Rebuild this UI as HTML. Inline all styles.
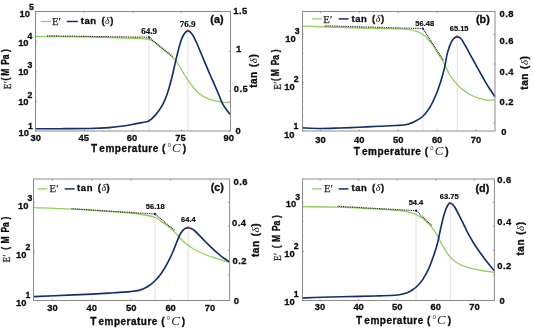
<!DOCTYPE html>
<html><head><meta charset="utf-8"><title>DMA curves</title>
<style>
html,body{margin:0;padding:0;background:#fff;overflow:hidden;}
svg{display:block;}
text{font-family:"Liberation Sans",sans-serif;fill:#0c0c0c;}
.tk{font-size:9.9px;font-weight:bold;}
.sp{font-size:9.2px;font-weight:bold;}
.an{font-family:"Liberation Serif",serif;font-size:9px;font-weight:bold;}
.an2{font-family:"Liberation Sans",sans-serif;font-size:7.9px;font-weight:bold;}
.ep{font-family:"Liberation Serif",serif;font-size:10.8px;fill:#2a2a2a;stroke:#2a2a2a;stroke-width:0.25px;}
.ep2{font-family:"Liberation Serif",serif;font-size:11px;font-weight:normal;fill:#2a2a2a;}
.lg{font-size:9.5px;font-weight:bold;letter-spacing:0.55px;}
.dl{font-family:"Liberation Serif",serif;font-style:italic;font-weight:normal;font-size:10px;}
.dl2{font-family:"Liberation Serif",serif;font-style:italic;font-weight:normal;font-size:11px;}
.dc{font-family:"Liberation Serif",serif;font-style:italic;font-weight:normal;font-size:13px;fill:#1c2430;}
.tg{font-size:10.8px;font-weight:bold;}
.at{font-size:10px;font-weight:bold;letter-spacing:0.5px;}
.tk,.sp,.lg,.tg,.at{stroke:#0c0c0c;stroke-width:0.3px;}
.an2{stroke:#0c0c0c;stroke-width:0.2px;}
.an{stroke:#0c0c0c;stroke-width:0.2px;}
.dl,.dl2,.dc{stroke:none;}
.ep2{stroke:#2a2a2a;stroke-width:0.3px;}
</style></head><body>
<svg width="533" height="328" viewBox="0 0 533 328">
<rect width="533" height="328" fill="#fff"/>
<g id="panel-a">
<line x1="149" y1="38" x2="149" y2="131" stroke="#e0e0e0" stroke-width="1"/>
<line x1="187.8" y1="31" x2="187.8" y2="131" stroke="#e0e0e0" stroke-width="1"/>
<path d="M35.50,36.50C39.58,36.53 50.92,36.62 60.00,36.70C69.08,36.78 80.00,36.82 90.00,37.00C100.00,37.18 111.67,37.55 120.00,37.80C128.33,38.05 135.50,38.30 140.00,38.50C144.50,38.70 145.17,38.72 147.00,39.00C148.83,39.28 149.67,39.53 151.00,40.20C152.33,40.87 152.67,41.20 155.00,43.00C157.33,44.80 162.00,48.58 165.00,51.00C168.00,53.42 170.67,55.08 173.00,57.50C175.33,59.92 177.08,62.58 179.00,65.50C180.92,68.42 182.43,71.77 184.50,75.00C186.57,78.23 188.93,81.77 191.40,84.90C193.87,88.03 196.33,91.42 199.30,93.80C202.27,96.18 205.90,97.88 209.20,99.20C212.50,100.52 216.30,101.12 219.10,101.70C221.90,102.28 224.13,102.63 226.00,102.70C227.87,102.77 229.58,102.20 230.30,102.10" fill="none" stroke="#92cf5e" stroke-width="1.3" stroke-linejoin="round"/>
<path d="M35.50,128.70C39.58,128.70 51.02,128.73 60.00,128.70C68.98,128.67 81.20,128.68 89.40,128.50C97.60,128.32 103.25,128.05 109.20,127.60C115.15,127.15 120.80,126.42 125.10,125.80C129.40,125.18 132.18,124.43 135.00,123.90C137.82,123.37 139.70,123.08 142.00,122.60C144.30,122.12 146.50,122.33 148.80,121.00C151.10,119.67 153.48,117.32 155.80,114.60C158.12,111.88 160.73,108.33 162.70,104.70C164.67,101.07 166.05,97.42 167.60,92.80C169.15,88.18 170.60,82.53 172.00,77.00C173.40,71.47 174.67,65.10 176.00,59.60C177.33,54.10 178.75,48.10 180.00,44.00C181.25,39.90 182.20,37.18 183.50,35.00C184.80,32.82 186.38,31.07 187.80,30.90C189.22,30.73 190.63,32.23 192.00,34.00C193.37,35.77 194.05,37.23 196.00,41.50C197.95,45.77 201.33,54.02 203.70,59.60C206.07,65.18 207.95,69.80 210.20,75.00C212.45,80.20 215.05,85.85 217.20,90.80C219.35,95.75 221.13,101.00 223.10,104.70C225.07,108.40 227.80,111.42 229.00,113.00C230.20,114.58 230.08,114.00 230.30,114.20" fill="none" stroke="#11306a" stroke-width="1.65" stroke-linejoin="round"/>
<path d="M47.00,35.80L149.00,37.30L173.20,57.00" fill="none" stroke="#1a1a1a" stroke-width="1.2" stroke-dasharray="0.9 0.9"/>
<rect x="35.5" y="11.5" width="195.0" height="119.5" fill="none" stroke="#8c8c8c" stroke-width="1"/>
<line x1="35.5" y1="131" x2="35.5" y2="129.4" stroke="#8c8c8c" stroke-width="0.8"/>
<line x1="35.5" y1="11.5" x2="35.5" y2="13.1" stroke="#8c8c8c" stroke-width="0.8"/>
<text transform="translate(35.70,140.50) scale(0.95,1)" class="tk" text-anchor="middle">30</text>
<line x1="84.25" y1="131" x2="84.25" y2="129.4" stroke="#8c8c8c" stroke-width="0.8"/>
<line x1="84.25" y1="11.5" x2="84.25" y2="13.1" stroke="#8c8c8c" stroke-width="0.8"/>
<text transform="translate(83.70,140.50) scale(0.95,1)" class="tk" text-anchor="middle">45</text>
<line x1="133" y1="131" x2="133" y2="129.4" stroke="#8c8c8c" stroke-width="0.8"/>
<line x1="133" y1="11.5" x2="133" y2="13.1" stroke="#8c8c8c" stroke-width="0.8"/>
<text transform="translate(132.00,140.50) scale(0.95,1)" class="tk" text-anchor="middle">60</text>
<line x1="181.2" y1="131" x2="181.2" y2="129.4" stroke="#8c8c8c" stroke-width="0.8"/>
<line x1="181.2" y1="11.5" x2="181.2" y2="13.1" stroke="#8c8c8c" stroke-width="0.8"/>
<text transform="translate(180.50,140.50) scale(0.95,1)" class="tk" text-anchor="middle">75</text>
<line x1="230.5" y1="131" x2="230.5" y2="129.4" stroke="#8c8c8c" stroke-width="0.8"/>
<line x1="230.5" y1="11.5" x2="230.5" y2="13.1" stroke="#8c8c8c" stroke-width="0.8"/>
<text transform="translate(228.70,140.50) scale(0.95,1)" class="tk" text-anchor="middle">90</text>
<line x1="35.5" y1="122.01" x2="36.6" y2="122.01" stroke="#8c8c8c" stroke-width="0.45"/>
<line x1="35.5" y1="116.75" x2="36.6" y2="116.75" stroke="#8c8c8c" stroke-width="0.45"/>
<line x1="35.5" y1="113.01" x2="36.6" y2="113.01" stroke="#8c8c8c" stroke-width="0.45"/>
<line x1="35.5" y1="110.12" x2="36.6" y2="110.12" stroke="#8c8c8c" stroke-width="0.45"/>
<line x1="35.5" y1="107.75" x2="36.6" y2="107.75" stroke="#8c8c8c" stroke-width="0.45"/>
<line x1="35.5" y1="105.75" x2="36.6" y2="105.75" stroke="#8c8c8c" stroke-width="0.45"/>
<line x1="35.5" y1="104.02" x2="36.6" y2="104.02" stroke="#8c8c8c" stroke-width="0.45"/>
<line x1="35.5" y1="102.49" x2="36.6" y2="102.49" stroke="#8c8c8c" stroke-width="0.45"/>
<line x1="35.5" y1="92.13" x2="36.6" y2="92.13" stroke="#8c8c8c" stroke-width="0.45"/>
<line x1="35.5" y1="86.87" x2="36.6" y2="86.87" stroke="#8c8c8c" stroke-width="0.45"/>
<line x1="35.5" y1="83.14" x2="36.6" y2="83.14" stroke="#8c8c8c" stroke-width="0.45"/>
<line x1="35.5" y1="80.24" x2="36.6" y2="80.24" stroke="#8c8c8c" stroke-width="0.45"/>
<line x1="35.5" y1="77.88" x2="36.6" y2="77.88" stroke="#8c8c8c" stroke-width="0.45"/>
<line x1="35.5" y1="75.88" x2="36.6" y2="75.88" stroke="#8c8c8c" stroke-width="0.45"/>
<line x1="35.5" y1="74.15" x2="36.6" y2="74.15" stroke="#8c8c8c" stroke-width="0.45"/>
<line x1="35.5" y1="72.62" x2="36.6" y2="72.62" stroke="#8c8c8c" stroke-width="0.45"/>
<line x1="35.5" y1="62.26" x2="36.6" y2="62.26" stroke="#8c8c8c" stroke-width="0.45"/>
<line x1="35.5" y1="57.00" x2="36.6" y2="57.00" stroke="#8c8c8c" stroke-width="0.45"/>
<line x1="35.5" y1="53.26" x2="36.6" y2="53.26" stroke="#8c8c8c" stroke-width="0.45"/>
<line x1="35.5" y1="50.37" x2="36.6" y2="50.37" stroke="#8c8c8c" stroke-width="0.45"/>
<line x1="35.5" y1="48.00" x2="36.6" y2="48.00" stroke="#8c8c8c" stroke-width="0.45"/>
<line x1="35.5" y1="46.00" x2="36.6" y2="46.00" stroke="#8c8c8c" stroke-width="0.45"/>
<line x1="35.5" y1="44.27" x2="36.6" y2="44.27" stroke="#8c8c8c" stroke-width="0.45"/>
<line x1="35.5" y1="42.74" x2="36.6" y2="42.74" stroke="#8c8c8c" stroke-width="0.45"/>
<line x1="35.5" y1="32.38" x2="36.6" y2="32.38" stroke="#8c8c8c" stroke-width="0.45"/>
<line x1="35.5" y1="27.12" x2="36.6" y2="27.12" stroke="#8c8c8c" stroke-width="0.45"/>
<line x1="35.5" y1="23.39" x2="36.6" y2="23.39" stroke="#8c8c8c" stroke-width="0.45"/>
<line x1="35.5" y1="20.49" x2="36.6" y2="20.49" stroke="#8c8c8c" stroke-width="0.45"/>
<line x1="35.5" y1="18.13" x2="36.6" y2="18.13" stroke="#8c8c8c" stroke-width="0.45"/>
<line x1="35.5" y1="16.13" x2="36.6" y2="16.13" stroke="#8c8c8c" stroke-width="0.45"/>
<line x1="35.5" y1="14.40" x2="36.6" y2="14.40" stroke="#8c8c8c" stroke-width="0.45"/>
<line x1="35.5" y1="12.87" x2="36.6" y2="12.87" stroke="#8c8c8c" stroke-width="0.45"/>
<line x1="35.5" y1="131" x2="37.1" y2="131" stroke="#8c8c8c" stroke-width="0.8"/>
<text transform="translate(28.90,135.70) scale(0.95,1)" class="tk" text-anchor="end">10</text>
<text transform="translate(27.90,128.80) scale(0.95,1)" class="sp">1</text>
<line x1="35.5" y1="101.1" x2="37.1" y2="101.1" stroke="#8c8c8c" stroke-width="0.8"/>
<text transform="translate(28.60,105.20) scale(0.95,1)" class="tk" text-anchor="end">10</text>
<text transform="translate(27.60,98.10) scale(0.95,1)" class="sp">2</text>
<line x1="35.5" y1="71.25" x2="37.1" y2="71.25" stroke="#8c8c8c" stroke-width="0.8"/>
<text transform="translate(28.60,75.20) scale(0.95,1)" class="tk" text-anchor="end">10</text>
<text transform="translate(27.60,68.00) scale(0.95,1)" class="sp">3</text>
<line x1="35.5" y1="41.4" x2="37.1" y2="41.4" stroke="#8c8c8c" stroke-width="0.8"/>
<text transform="translate(28.60,45.90) scale(0.95,1)" class="tk" text-anchor="end">10</text>
<text transform="translate(27.60,38.80) scale(0.95,1)" class="sp">4</text>
<line x1="35.5" y1="11.5" x2="37.1" y2="11.5" stroke="#8c8c8c" stroke-width="0.8"/>
<text transform="translate(29.90,16.60) scale(0.95,1)" class="tk" text-anchor="end">10</text>
<text transform="translate(28.90,9.70) scale(0.95,1)" class="sp">5</text>
<text transform="translate(235.60,133.70) scale(0.95,1)" class="tk" letter-spacing="0.5">0</text>
<text transform="translate(233.80,92.30) scale(0.95,1)" class="tk" letter-spacing="0.5">0.5</text>
<text transform="translate(236.00,51.70) scale(0.95,1)" class="tk" letter-spacing="0.5">1</text>
<text transform="translate(233.20,14.30) scale(0.95,1)" class="tk" letter-spacing="0.5">1.5</text>
<line x1="230.5" y1="131" x2="228.9" y2="131" stroke="#8c8c8c" stroke-width="0.8"/>
<line x1="230.5" y1="91.2" x2="228.9" y2="91.2" stroke="#8c8c8c" stroke-width="0.8"/>
<line x1="230.5" y1="51.3" x2="228.9" y2="51.3" stroke="#8c8c8c" stroke-width="0.8"/>
<line x1="230.5" y1="11.5" x2="228.9" y2="11.5" stroke="#8c8c8c" stroke-width="0.8"/>
<circle cx="149.2" cy="37.4" r="1.15" fill="#1c1c90"/>
<circle cx="187.8" cy="30.6" r="1.15" fill="#d42020"/>
<text x="149" y="33.5" class="an" text-anchor="middle">64.9</text>
<text x="187.6" y="27.2" class="an" text-anchor="middle">76.9</text>
<line x1="40.5" y1="21.5" x2="51" y2="21.5" stroke="#92cf5e" stroke-width="1.25"/>
<text x="52.0" y="24.9" class="ep">E′</text>
<line x1="66.8" y1="21.5" x2="77.8" y2="21.5" stroke="#11306a" stroke-width="1.5"/>
<text x="80.8" y="24.099999999999998" class="lg">tan <tspan dx="1.5">(</tspan><tspan class="dl">δ</tspan>)</text>
<text x="210.3" y="22.6" class="tg">(a)</text>
<text x="138.8" y="152.3" class="at" text-anchor="middle"><tspan>T</tspan><tspan dx="2.4">emperature </tspan><tspan>(</tspan><tspan class="dc" dx="1" dy="-1" style="font-size:10px">°</tspan><tspan class="dc" dx="0.6" dy="1">C</tspan><tspan dx="1.5">)</tspan></text>
<g transform="translate(10.5,89.5) rotate(-90) scale(0.85,1)"><text class="ep2" x="0.3 7.3">E′</text><text class="at" letter-spacing="0" y="-1.1" x="10.6 16.2 24.0 29.0 35.5 44.2">(M Pa)</text></g>
<text transform="translate(257.4,87.8) rotate(-90)" class="at">tan <tspan dx="1">(</tspan><tspan class="dl2">δ</tspan>)</text>
</g>
<g id="panel-b">
<line x1="422.9" y1="30" x2="422.9" y2="131" stroke="#e0e0e0" stroke-width="1"/>
<line x1="457.2" y1="37" x2="457.2" y2="131" stroke="#e0e0e0" stroke-width="1"/>
<path d="M302.50,25.80C306.22,26.00 315.22,26.63 324.80,27.00C334.38,27.37 348.30,27.70 360.00,28.00C371.70,28.30 387.18,28.57 395.00,28.80C402.82,29.03 403.27,28.97 406.90,29.40C410.53,29.83 413.83,30.35 416.80,31.40C419.77,32.45 422.23,33.65 424.70,35.70C427.17,37.75 429.45,40.88 431.60,43.70C433.75,46.52 435.62,49.47 437.60,52.60C439.58,55.73 441.68,59.20 443.50,62.50C445.32,65.80 447.02,69.67 448.50,72.40C449.98,75.13 450.42,76.33 452.40,78.90C454.38,81.47 457.42,85.17 460.40,87.80C463.38,90.43 467.00,92.88 470.30,94.70C473.60,96.52 477.23,97.77 480.20,98.70C483.17,99.63 485.67,100.13 488.10,100.30C490.53,100.47 493.68,99.80 494.80,99.70" fill="none" stroke="#92cf5e" stroke-width="1.3" stroke-linejoin="round"/>
<path d="M302.50,127.90C305.37,128.00 313.45,128.48 319.70,128.50C325.95,128.52 333.40,128.20 340.00,128.00C346.60,127.80 352.80,127.58 359.30,127.30C365.80,127.02 373.05,126.60 379.00,126.30C384.95,126.00 390.35,125.80 395.00,125.50C399.65,125.20 403.60,125.17 406.90,124.50C410.20,123.83 412.17,122.83 414.80,121.50C417.43,120.17 420.22,118.82 422.70,116.50C425.18,114.18 427.55,111.07 429.70,107.60C431.85,104.13 433.78,99.98 435.60,95.70C437.42,91.42 439.12,86.52 440.60,81.90C442.08,77.28 443.35,72.88 444.50,68.00C445.65,63.12 446.33,56.98 447.50,52.60C448.67,48.22 450.33,44.17 451.50,41.70C452.67,39.23 453.55,38.62 454.50,37.80C455.45,36.98 456.28,36.80 457.20,36.80C458.12,36.80 459.05,37.03 460.00,37.80C460.95,38.57 461.47,39.08 462.90,41.40C464.33,43.72 466.70,48.27 468.60,51.70C470.50,55.13 472.40,58.57 474.30,62.00C476.20,65.43 478.08,68.87 480.00,72.30C481.92,75.73 484.08,79.68 485.80,82.60C487.52,85.52 488.80,87.47 490.30,89.80C491.80,92.13 494.05,95.47 494.80,96.60" fill="none" stroke="#11306a" stroke-width="1.65" stroke-linejoin="round"/>
<path d="M324.80,25.80L422.90,28.60L443.50,60.50" fill="none" stroke="#1a1a1a" stroke-width="1.2" stroke-dasharray="0.9 0.9"/>
<rect x="302.5" y="11.5" width="192.5" height="119.5" fill="none" stroke="#8c8c8c" stroke-width="1"/>
<line x1="320.4" y1="131" x2="320.4" y2="129.4" stroke="#8c8c8c" stroke-width="0.8"/>
<line x1="320.4" y1="11.5" x2="320.4" y2="13.1" stroke="#8c8c8c" stroke-width="0.8"/>
<text transform="translate(320.40,142.80) scale(0.95,1)" class="tk" text-anchor="middle">30</text>
<line x1="359.3" y1="131" x2="359.3" y2="129.4" stroke="#8c8c8c" stroke-width="0.8"/>
<line x1="359.3" y1="11.5" x2="359.3" y2="13.1" stroke="#8c8c8c" stroke-width="0.8"/>
<text transform="translate(359.30,142.80) scale(0.95,1)" class="tk" text-anchor="middle">40</text>
<line x1="398.2" y1="131" x2="398.2" y2="129.4" stroke="#8c8c8c" stroke-width="0.8"/>
<line x1="398.2" y1="11.5" x2="398.2" y2="13.1" stroke="#8c8c8c" stroke-width="0.8"/>
<text transform="translate(398.20,142.80) scale(0.95,1)" class="tk" text-anchor="middle">50</text>
<line x1="437.1" y1="131" x2="437.1" y2="129.4" stroke="#8c8c8c" stroke-width="0.8"/>
<line x1="437.1" y1="11.5" x2="437.1" y2="13.1" stroke="#8c8c8c" stroke-width="0.8"/>
<text transform="translate(437.10,142.80) scale(0.95,1)" class="tk" text-anchor="middle">60</text>
<line x1="476" y1="131" x2="476" y2="129.4" stroke="#8c8c8c" stroke-width="0.8"/>
<line x1="476" y1="11.5" x2="476" y2="13.1" stroke="#8c8c8c" stroke-width="0.8"/>
<text transform="translate(476.00,142.80) scale(0.95,1)" class="tk" text-anchor="middle">70</text>
<line x1="302.5" y1="116.40" x2="303.6" y2="116.40" stroke="#8c8c8c" stroke-width="0.45"/>
<line x1="302.5" y1="107.86" x2="303.6" y2="107.86" stroke="#8c8c8c" stroke-width="0.45"/>
<line x1="302.5" y1="101.80" x2="303.6" y2="101.80" stroke="#8c8c8c" stroke-width="0.45"/>
<line x1="302.5" y1="97.10" x2="303.6" y2="97.10" stroke="#8c8c8c" stroke-width="0.45"/>
<line x1="302.5" y1="93.26" x2="303.6" y2="93.26" stroke="#8c8c8c" stroke-width="0.45"/>
<line x1="302.5" y1="90.01" x2="303.6" y2="90.01" stroke="#8c8c8c" stroke-width="0.45"/>
<line x1="302.5" y1="87.20" x2="303.6" y2="87.20" stroke="#8c8c8c" stroke-width="0.45"/>
<line x1="302.5" y1="84.72" x2="303.6" y2="84.72" stroke="#8c8c8c" stroke-width="0.45"/>
<line x1="302.5" y1="67.90" x2="303.6" y2="67.90" stroke="#8c8c8c" stroke-width="0.45"/>
<line x1="302.5" y1="59.36" x2="303.6" y2="59.36" stroke="#8c8c8c" stroke-width="0.45"/>
<line x1="302.5" y1="53.30" x2="303.6" y2="53.30" stroke="#8c8c8c" stroke-width="0.45"/>
<line x1="302.5" y1="48.60" x2="303.6" y2="48.60" stroke="#8c8c8c" stroke-width="0.45"/>
<line x1="302.5" y1="44.76" x2="303.6" y2="44.76" stroke="#8c8c8c" stroke-width="0.45"/>
<line x1="302.5" y1="41.51" x2="303.6" y2="41.51" stroke="#8c8c8c" stroke-width="0.45"/>
<line x1="302.5" y1="38.70" x2="303.6" y2="38.70" stroke="#8c8c8c" stroke-width="0.45"/>
<line x1="302.5" y1="36.22" x2="303.6" y2="36.22" stroke="#8c8c8c" stroke-width="0.45"/>
<line x1="302.5" y1="19.40" x2="303.6" y2="19.40" stroke="#8c8c8c" stroke-width="0.45"/>
<line x1="302.5" y1="131" x2="304.1" y2="131" stroke="#8c8c8c" stroke-width="0.8"/>
<text transform="translate(294.40,137.60) scale(0.95,1)" class="tk" text-anchor="end">10</text>
<text transform="translate(293.40,129.20) scale(0.95,1)" class="sp">1</text>
<line x1="302.5" y1="82.8" x2="304.1" y2="82.8" stroke="#8c8c8c" stroke-width="0.8"/>
<text transform="translate(294.80,89.50) scale(0.95,1)" class="tk" text-anchor="end">10</text>
<text transform="translate(293.80,82.00) scale(0.95,1)" class="sp">2</text>
<line x1="302.5" y1="34" x2="304.1" y2="34" stroke="#8c8c8c" stroke-width="0.8"/>
<text transform="translate(295.70,42.00) scale(0.95,1)" class="tk" text-anchor="end">10</text>
<text transform="translate(294.70,33.60) scale(0.95,1)" class="sp">3</text>
<text transform="translate(501.30,135.00) scale(0.95,1)" class="tk" letter-spacing="0.5">0</text>
<text transform="translate(499.50,104.60) scale(0.95,1)" class="tk" letter-spacing="0.5">0.2</text>
<text transform="translate(499.50,74.60) scale(0.95,1)" class="tk" letter-spacing="0.5">0.4</text>
<text transform="translate(499.50,43.80) scale(0.95,1)" class="tk" letter-spacing="0.5">0.6</text>
<text transform="translate(499.50,16.50) scale(0.95,1)" class="tk" letter-spacing="0.5">0.8</text>
<line x1="495" y1="34.5" x2="493.4" y2="34.5" stroke="#8c8c8c" stroke-width="0.8"/>
<line x1="495" y1="64" x2="493.4" y2="64" stroke="#8c8c8c" stroke-width="0.8"/>
<line x1="495" y1="94" x2="493.4" y2="94" stroke="#8c8c8c" stroke-width="0.8"/>
<line x1="495" y1="123" x2="493.4" y2="123" stroke="#8c8c8c" stroke-width="0.8"/>
<circle cx="422.9" cy="28.6" r="1.15" fill="#1c1c90"/>
<circle cx="457.2" cy="36.3" r="1.15" fill="#d42020"/>
<text transform="translate(424.70,25.90) scale(0.95,1)" class="an2" text-anchor="middle">56.48</text>
<text transform="translate(459.10,30.90) scale(0.95,1)" class="an2" text-anchor="middle">65.15</text>
<line x1="311.9" y1="18.9" x2="321.8" y2="18.9" stroke="#92cf5e" stroke-width="1.25"/>
<text x="323.3" y="22.5" class="ep">E′</text>
<line x1="338.6" y1="18.9" x2="348.5" y2="18.9" stroke="#11306a" stroke-width="1.5"/>
<text x="351.5" y="21.7" class="lg">tan <tspan dx="1.5">(</tspan><tspan class="dl">δ</tspan>)</text>
<text x="476" y="22.7" class="tg">(b)</text>
<text x="401.4" y="154.6" class="at" text-anchor="middle"><tspan>T</tspan><tspan dx="2.4">emperature </tspan><tspan>(</tspan><tspan class="dc" dx="1" dy="-1" style="font-size:10px">°</tspan><tspan class="dc" dx="0.6" dy="1">C</tspan><tspan dx="1.5">)</tspan></text>
<g transform="translate(280.5,89.9) rotate(-90) scale(0.85,1)"><text class="ep2" x="0.3 7.3">E′</text><text class="at" letter-spacing="0" y="-1.1" x="10.6 16.2 24.0 29.0 35.5 44.2">(M Pa)</text></g>
<text transform="translate(528.4,89.7) rotate(-90)" class="at">tan <tspan dx="1">(</tspan><tspan class="dl2">δ</tspan>)</text>
</g>
<g id="panel-c">
<line x1="154.9" y1="215" x2="154.9" y2="300.5" stroke="#e0e0e0" stroke-width="1"/>
<line x1="188.2" y1="228" x2="188.2" y2="300.5" stroke="#e0e0e0" stroke-width="1"/>
<path d="M33.50,207.70C39.85,207.93 59.68,208.50 71.60,209.10C83.52,209.70 95.27,210.65 105.00,211.30C114.73,211.95 123.85,212.45 130.00,213.00C136.15,213.55 137.93,213.93 141.90,214.60C145.87,215.27 150.50,215.83 153.80,217.00C157.10,218.17 159.07,219.85 161.70,221.60C164.33,223.35 167.88,226.22 169.60,227.50C171.32,228.78 170.45,227.77 172.00,229.30C173.55,230.83 176.62,234.32 178.90,236.70C181.18,239.08 183.03,241.42 185.70,243.60C188.37,245.78 191.47,247.90 194.90,249.80C198.33,251.70 202.48,253.48 206.30,255.00C210.12,256.52 213.95,257.63 217.80,258.90C221.65,260.17 227.47,261.98 229.40,262.60" fill="none" stroke="#92cf5e" stroke-width="1.3" stroke-linejoin="round"/>
<path d="M33.50,296.60C37.03,296.45 44.88,296.12 54.70,295.70C64.52,295.28 82.50,294.60 92.40,294.10C102.30,293.60 107.83,293.12 114.10,292.70C120.37,292.28 125.70,292.03 130.00,291.60C134.30,291.17 136.93,290.95 139.90,290.10C142.87,289.25 145.32,288.02 147.80,286.50C150.28,284.98 152.48,283.30 154.80,281.00C157.12,278.70 159.57,275.73 161.70,272.70C163.83,269.67 165.78,266.17 167.60,262.80C169.42,259.43 171.10,255.88 172.60,252.50C174.10,249.12 175.37,245.50 176.60,242.50C177.83,239.50 178.87,236.60 180.00,234.50C181.13,232.40 182.45,230.93 183.40,229.90C184.35,228.87 184.88,228.67 185.70,228.30C186.52,227.93 187.42,227.67 188.30,227.70C189.18,227.73 189.90,227.95 191.00,228.50C192.10,229.05 193.30,229.63 194.90,231.00C196.50,232.37 198.70,234.78 200.60,236.70C202.50,238.62 204.40,240.58 206.30,242.50C208.20,244.42 210.08,246.38 212.00,248.20C213.92,250.02 215.88,251.77 217.80,253.40C219.72,255.03 221.57,256.58 223.50,258.00C225.43,259.42 228.42,261.25 229.40,261.90" fill="none" stroke="#11306a" stroke-width="1.65" stroke-linejoin="round"/>
<path d="M71.60,208.70L155.00,214.00L174.60,230.50" fill="none" stroke="#1a1a1a" stroke-width="1.2" stroke-dasharray="0.9 0.9"/>
<rect x="33.5" y="179" width="196.1" height="121.5" fill="none" stroke="#8c8c8c" stroke-width="1"/>
<line x1="52.4" y1="300.5" x2="52.4" y2="298.9" stroke="#8c8c8c" stroke-width="0.8"/>
<line x1="52.4" y1="179" x2="52.4" y2="180.6" stroke="#8c8c8c" stroke-width="0.8"/>
<text transform="translate(52.40,311.30) scale(0.95,1)" class="tk" text-anchor="middle">30</text>
<line x1="91.8" y1="300.5" x2="91.8" y2="298.9" stroke="#8c8c8c" stroke-width="0.8"/>
<line x1="91.8" y1="179" x2="91.8" y2="180.6" stroke="#8c8c8c" stroke-width="0.8"/>
<text transform="translate(91.80,311.30) scale(0.95,1)" class="tk" text-anchor="middle">40</text>
<line x1="131.2" y1="300.5" x2="131.2" y2="298.9" stroke="#8c8c8c" stroke-width="0.8"/>
<line x1="131.2" y1="179" x2="131.2" y2="180.6" stroke="#8c8c8c" stroke-width="0.8"/>
<text transform="translate(131.20,311.30) scale(0.95,1)" class="tk" text-anchor="middle">50</text>
<line x1="170.6" y1="300.5" x2="170.6" y2="298.9" stroke="#8c8c8c" stroke-width="0.8"/>
<line x1="170.6" y1="179" x2="170.6" y2="180.6" stroke="#8c8c8c" stroke-width="0.8"/>
<text transform="translate(170.60,311.30) scale(0.95,1)" class="tk" text-anchor="middle">60</text>
<line x1="210" y1="300.5" x2="210" y2="298.9" stroke="#8c8c8c" stroke-width="0.8"/>
<line x1="210" y1="179" x2="210" y2="180.6" stroke="#8c8c8c" stroke-width="0.8"/>
<text transform="translate(210.00,311.30) scale(0.95,1)" class="tk" text-anchor="middle">70</text>
<line x1="33.5" y1="285.67" x2="34.6" y2="285.67" stroke="#8c8c8c" stroke-width="0.45"/>
<line x1="33.5" y1="277.00" x2="34.6" y2="277.00" stroke="#8c8c8c" stroke-width="0.45"/>
<line x1="33.5" y1="270.85" x2="34.6" y2="270.85" stroke="#8c8c8c" stroke-width="0.45"/>
<line x1="33.5" y1="266.08" x2="34.6" y2="266.08" stroke="#8c8c8c" stroke-width="0.45"/>
<line x1="33.5" y1="262.18" x2="34.6" y2="262.18" stroke="#8c8c8c" stroke-width="0.45"/>
<line x1="33.5" y1="258.88" x2="34.6" y2="258.88" stroke="#8c8c8c" stroke-width="0.45"/>
<line x1="33.5" y1="256.02" x2="34.6" y2="256.02" stroke="#8c8c8c" stroke-width="0.45"/>
<line x1="33.5" y1="253.50" x2="34.6" y2="253.50" stroke="#8c8c8c" stroke-width="0.45"/>
<line x1="33.5" y1="236.42" x2="34.6" y2="236.42" stroke="#8c8c8c" stroke-width="0.45"/>
<line x1="33.5" y1="227.75" x2="34.6" y2="227.75" stroke="#8c8c8c" stroke-width="0.45"/>
<line x1="33.5" y1="221.60" x2="34.6" y2="221.60" stroke="#8c8c8c" stroke-width="0.45"/>
<line x1="33.5" y1="216.83" x2="34.6" y2="216.83" stroke="#8c8c8c" stroke-width="0.45"/>
<line x1="33.5" y1="212.93" x2="34.6" y2="212.93" stroke="#8c8c8c" stroke-width="0.45"/>
<line x1="33.5" y1="209.63" x2="34.6" y2="209.63" stroke="#8c8c8c" stroke-width="0.45"/>
<line x1="33.5" y1="206.77" x2="34.6" y2="206.77" stroke="#8c8c8c" stroke-width="0.45"/>
<line x1="33.5" y1="204.25" x2="34.6" y2="204.25" stroke="#8c8c8c" stroke-width="0.45"/>
<line x1="33.5" y1="187.17" x2="34.6" y2="187.17" stroke="#8c8c8c" stroke-width="0.45"/>
<line x1="33.5" y1="300.5" x2="35.1" y2="300.5" stroke="#8c8c8c" stroke-width="0.8"/>
<text transform="translate(26.50,305.70) scale(0.95,1)" class="tk" text-anchor="end">10</text>
<text transform="translate(25.50,297.80) scale(0.95,1)" class="sp">1</text>
<line x1="33.5" y1="251.2" x2="35.1" y2="251.2" stroke="#8c8c8c" stroke-width="0.8"/>
<text transform="translate(26.40,257.50) scale(0.95,1)" class="tk" text-anchor="end">10</text>
<text transform="translate(25.40,249.70) scale(0.95,1)" class="sp">2</text>
<line x1="33.5" y1="202" x2="35.1" y2="202" stroke="#8c8c8c" stroke-width="0.8"/>
<text transform="translate(28.40,209.20) scale(0.95,1)" class="tk" text-anchor="end">10</text>
<text transform="translate(27.40,200.90) scale(0.95,1)" class="sp">3</text>
<text transform="translate(233.70,304.30) scale(0.95,1)" class="tk" letter-spacing="0.5">0</text>
<text transform="translate(232.50,263.80) scale(0.95,1)" class="tk" letter-spacing="0.5">0.2</text>
<text transform="translate(232.00,225.80) scale(0.95,1)" class="tk" letter-spacing="0.5">0.4</text>
<text transform="translate(233.50,184.80) scale(0.95,1)" class="tk" letter-spacing="0.5">0.6</text>
<line x1="229.6" y1="202.5" x2="228.0" y2="202.5" stroke="#8c8c8c" stroke-width="0.8"/>
<line x1="229.6" y1="226" x2="228.0" y2="226" stroke="#8c8c8c" stroke-width="0.8"/>
<line x1="229.6" y1="250" x2="228.0" y2="250" stroke="#8c8c8c" stroke-width="0.8"/>
<line x1="229.6" y1="275" x2="228.0" y2="275" stroke="#8c8c8c" stroke-width="0.8"/>
<circle cx="155" cy="214" r="1.15" fill="#1c1c90"/>
<circle cx="188.2" cy="227.5" r="1.15" fill="#d42020"/>
<text transform="translate(155.20,209.00) scale(0.95,1)" class="an2" text-anchor="middle">56.18</text>
<text transform="translate(188.40,222.20) scale(0.95,1)" class="an2" text-anchor="middle">64.4</text>
<line x1="37.5" y1="188.9" x2="47.4" y2="188.9" stroke="#92cf5e" stroke-width="1.25"/>
<text x="49.6" y="192.2" class="ep">E′</text>
<line x1="64.7" y1="188.9" x2="74.6" y2="188.9" stroke="#11306a" stroke-width="1.5"/>
<text x="77.1" y="191.39999999999998" class="lg">tan <tspan dx="1.5">(</tspan><tspan class="dl">δ</tspan>)</text>
<text x="210.7" y="190.6" class="tg">(c)</text>
<text x="137.9" y="324.6" class="at" text-anchor="middle"><tspan>T</tspan><tspan dx="2.4">emperature </tspan><tspan>(</tspan><tspan class="dc" dx="1" dy="-1" style="font-size:10px">°</tspan><tspan class="dc" dx="0.6" dy="1">C</tspan><tspan dx="1.5">)</tspan></text>
<g transform="translate(9.9,262.7) rotate(-90) scale(0.85,1)"><text class="ep2" x="0.3 7.3">E′</text><text class="at" letter-spacing="0" y="-1.1" x="15.3 22.7 30.5 35.5 42.0 50.7">(M Pa)</text></g>
<text transform="translate(258.6,257) rotate(-90)" class="at">tan <tspan dx="1">(</tspan><tspan class="dl2">δ</tspan>)</text>
</g>
<g id="panel-d">
<line x1="416" y1="212" x2="416" y2="300.5" stroke="#e0e0e0" stroke-width="1"/>
<line x1="450.3" y1="204" x2="450.3" y2="300.5" stroke="#e0e0e0" stroke-width="1"/>
<path d="M302.50,206.70C308.35,206.77 326.35,206.77 337.60,207.10C348.85,207.43 360.43,208.17 370.00,208.70C379.57,209.23 388.85,209.82 395.00,210.30C401.15,210.78 403.43,210.93 406.90,211.60C410.37,212.27 413.00,213.03 415.80,214.30C418.60,215.57 421.30,217.37 423.70,219.20C426.10,221.03 428.33,223.23 430.20,225.30C432.07,227.37 433.68,229.85 434.90,231.60C436.12,233.35 436.75,234.50 437.50,235.80C438.25,237.10 438.65,237.93 439.40,239.40C440.15,240.87 440.87,242.57 442.00,244.60C443.13,246.63 444.75,249.43 446.20,251.60C447.65,253.77 448.80,255.67 450.70,257.60C452.60,259.53 454.93,261.60 457.60,263.20C460.27,264.80 463.27,266.08 466.70,267.20C470.13,268.32 474.63,269.18 478.20,269.90C481.77,270.62 485.43,271.10 488.10,271.50C490.77,271.90 493.18,272.17 494.20,272.30" fill="none" stroke="#92cf5e" stroke-width="1.3" stroke-linejoin="round"/>
<path d="M302.50,298.00C305.70,297.87 312.23,297.47 321.70,297.20C331.17,296.93 349.73,296.62 359.30,296.40C368.87,296.18 373.15,296.08 379.10,295.90C385.05,295.72 391.03,295.62 395.00,295.30C398.97,294.98 400.27,294.73 402.90,294.00C405.53,293.27 408.48,292.15 410.80,290.90C413.12,289.65 414.82,288.38 416.80,286.50C418.78,284.62 420.72,282.57 422.70,279.60C424.68,276.63 426.88,272.67 428.70,268.70C430.52,264.73 432.17,259.92 433.60,255.80C435.03,251.68 436.35,247.50 437.30,244.00C438.25,240.50 438.58,238.05 439.30,234.80C440.02,231.55 440.83,227.75 441.60,224.50C442.37,221.25 443.13,217.98 443.90,215.30C444.67,212.62 445.45,210.23 446.20,208.40C446.95,206.57 447.72,205.17 448.40,204.30C449.08,203.43 449.60,203.18 450.30,203.20C451.00,203.22 451.77,203.60 452.60,204.40C453.43,205.20 454.08,205.93 455.30,208.00C456.52,210.07 458.37,213.77 459.90,216.80C461.43,219.83 462.98,223.13 464.50,226.20C466.02,229.27 467.48,232.40 469.00,235.20C470.52,238.00 472.07,240.53 473.60,243.00C475.13,245.47 476.67,247.78 478.20,250.00C479.73,252.22 481.08,254.00 482.80,256.30C484.52,258.60 486.60,261.42 488.50,263.80C490.40,266.18 493.25,269.47 494.20,270.60" fill="none" stroke="#11306a" stroke-width="1.65" stroke-linejoin="round"/>
<path d="M337.60,206.30L416.20,210.70L431.60,225.50" fill="none" stroke="#1a1a1a" stroke-width="1.2" stroke-dasharray="0.9 0.9"/>
<rect x="302.5" y="179" width="191.89999999999998" height="121.5" fill="none" stroke="#8c8c8c" stroke-width="1"/>
<line x1="320" y1="300.5" x2="320" y2="298.9" stroke="#8c8c8c" stroke-width="0.8"/>
<line x1="320" y1="179" x2="320" y2="180.6" stroke="#8c8c8c" stroke-width="0.8"/>
<text transform="translate(320.00,310.10) scale(0.95,1)" class="tk" text-anchor="middle">30</text>
<line x1="358.6" y1="300.5" x2="358.6" y2="298.9" stroke="#8c8c8c" stroke-width="0.8"/>
<line x1="358.6" y1="179" x2="358.6" y2="180.6" stroke="#8c8c8c" stroke-width="0.8"/>
<text transform="translate(358.60,310.10) scale(0.95,1)" class="tk" text-anchor="middle">40</text>
<line x1="397.2" y1="300.5" x2="397.2" y2="298.9" stroke="#8c8c8c" stroke-width="0.8"/>
<line x1="397.2" y1="179" x2="397.2" y2="180.6" stroke="#8c8c8c" stroke-width="0.8"/>
<text transform="translate(397.20,310.10) scale(0.95,1)" class="tk" text-anchor="middle">50</text>
<line x1="435.8" y1="300.5" x2="435.8" y2="298.9" stroke="#8c8c8c" stroke-width="0.8"/>
<line x1="435.8" y1="179" x2="435.8" y2="180.6" stroke="#8c8c8c" stroke-width="0.8"/>
<text transform="translate(435.80,310.10) scale(0.95,1)" class="tk" text-anchor="middle">60</text>
<line x1="474.4" y1="300.5" x2="474.4" y2="298.9" stroke="#8c8c8c" stroke-width="0.8"/>
<line x1="474.4" y1="179" x2="474.4" y2="180.6" stroke="#8c8c8c" stroke-width="0.8"/>
<text transform="translate(474.40,310.10) scale(0.95,1)" class="tk" text-anchor="middle">70</text>
<line x1="302.5" y1="285.67" x2="303.6" y2="285.67" stroke="#8c8c8c" stroke-width="0.45"/>
<line x1="302.5" y1="277.00" x2="303.6" y2="277.00" stroke="#8c8c8c" stroke-width="0.45"/>
<line x1="302.5" y1="270.85" x2="303.6" y2="270.85" stroke="#8c8c8c" stroke-width="0.45"/>
<line x1="302.5" y1="266.08" x2="303.6" y2="266.08" stroke="#8c8c8c" stroke-width="0.45"/>
<line x1="302.5" y1="262.18" x2="303.6" y2="262.18" stroke="#8c8c8c" stroke-width="0.45"/>
<line x1="302.5" y1="258.88" x2="303.6" y2="258.88" stroke="#8c8c8c" stroke-width="0.45"/>
<line x1="302.5" y1="256.02" x2="303.6" y2="256.02" stroke="#8c8c8c" stroke-width="0.45"/>
<line x1="302.5" y1="253.50" x2="303.6" y2="253.50" stroke="#8c8c8c" stroke-width="0.45"/>
<line x1="302.5" y1="236.42" x2="303.6" y2="236.42" stroke="#8c8c8c" stroke-width="0.45"/>
<line x1="302.5" y1="227.75" x2="303.6" y2="227.75" stroke="#8c8c8c" stroke-width="0.45"/>
<line x1="302.5" y1="221.60" x2="303.6" y2="221.60" stroke="#8c8c8c" stroke-width="0.45"/>
<line x1="302.5" y1="216.83" x2="303.6" y2="216.83" stroke="#8c8c8c" stroke-width="0.45"/>
<line x1="302.5" y1="212.93" x2="303.6" y2="212.93" stroke="#8c8c8c" stroke-width="0.45"/>
<line x1="302.5" y1="209.63" x2="303.6" y2="209.63" stroke="#8c8c8c" stroke-width="0.45"/>
<line x1="302.5" y1="206.77" x2="303.6" y2="206.77" stroke="#8c8c8c" stroke-width="0.45"/>
<line x1="302.5" y1="204.25" x2="303.6" y2="204.25" stroke="#8c8c8c" stroke-width="0.45"/>
<line x1="302.5" y1="187.17" x2="303.6" y2="187.17" stroke="#8c8c8c" stroke-width="0.45"/>
<line x1="302.5" y1="300.5" x2="304.1" y2="300.5" stroke="#8c8c8c" stroke-width="0.8"/>
<text transform="translate(294.80,304.80) scale(0.95,1)" class="tk" text-anchor="end">10</text>
<text transform="translate(293.80,296.80) scale(0.95,1)" class="sp">1</text>
<line x1="302.5" y1="251.5" x2="304.1" y2="251.5" stroke="#8c8c8c" stroke-width="0.8"/>
<text transform="translate(294.80,256.80) scale(0.95,1)" class="tk" text-anchor="end">10</text>
<text transform="translate(293.80,248.50) scale(0.95,1)" class="sp">2</text>
<line x1="302.5" y1="202" x2="304.1" y2="202" stroke="#8c8c8c" stroke-width="0.8"/>
<text transform="translate(296.20,207.40) scale(0.95,1)" class="tk" text-anchor="end">10</text>
<text transform="translate(295.20,199.50) scale(0.95,1)" class="sp">3</text>
<text transform="translate(499.40,303.50) scale(0.95,1)" class="tk" letter-spacing="0.5">0</text>
<text transform="translate(497.30,269.00) scale(0.95,1)" class="tk" letter-spacing="0.5">0.2</text>
<text transform="translate(497.30,225.20) scale(0.95,1)" class="tk" letter-spacing="0.5">0.4</text>
<text transform="translate(497.30,183.30) scale(0.95,1)" class="tk" letter-spacing="0.5">0.6</text>
<line x1="494.4" y1="202.5" x2="492.79999999999995" y2="202.5" stroke="#8c8c8c" stroke-width="0.8"/>
<line x1="494.4" y1="226" x2="492.79999999999995" y2="226" stroke="#8c8c8c" stroke-width="0.8"/>
<line x1="494.4" y1="250" x2="492.79999999999995" y2="250" stroke="#8c8c8c" stroke-width="0.8"/>
<line x1="494.4" y1="275" x2="492.79999999999995" y2="275" stroke="#8c8c8c" stroke-width="0.8"/>
<circle cx="416.2" cy="210.7" r="1.15" fill="#1c1c90"/>
<circle cx="450.3" cy="203.1" r="1.15" fill="#d42020"/>
<text transform="translate(416.00,205.40) scale(0.95,1)" class="an2" text-anchor="middle">54.4</text>
<text transform="translate(449.20,198.90) scale(0.95,1)" class="an2" text-anchor="middle">63.75</text>
<line x1="311.9" y1="188.9" x2="321.8" y2="188.9" stroke="#92cf5e" stroke-width="1.25"/>
<text x="324.0" y="192.2" class="ep">E′</text>
<line x1="338.6" y1="188.9" x2="348.5" y2="188.9" stroke="#11306a" stroke-width="1.5"/>
<text x="351.5" y="191.39999999999998" class="lg">tan <tspan dx="1.5">(</tspan><tspan class="dl">δ</tspan>)</text>
<text x="475.5" y="191.5" class="tg">(d)</text>
<text x="403.8" y="324" class="at" text-anchor="middle"><tspan>T</tspan><tspan dx="2.4">emperature </tspan><tspan>(</tspan><tspan class="dc" dx="1" dy="-1" style="font-size:10px">°</tspan><tspan class="dc" dx="0.6" dy="1">C</tspan><tspan dx="1.5">)</tspan></text>
<g transform="translate(280.8,261.2) rotate(-90) scale(0.85,1)"><text class="ep2" x="0.3 7.3">E′</text><text class="at" letter-spacing="0" y="-1.1" x="15.3 22.7 30.5 35.5 42.0 50.7">(M Pa)</text></g>
<text transform="translate(524,255.5) rotate(-90)" class="at">tan <tspan dx="1">(</tspan><tspan class="dl2">δ</tspan>)</text>
</g>
</svg>
</body></html>
